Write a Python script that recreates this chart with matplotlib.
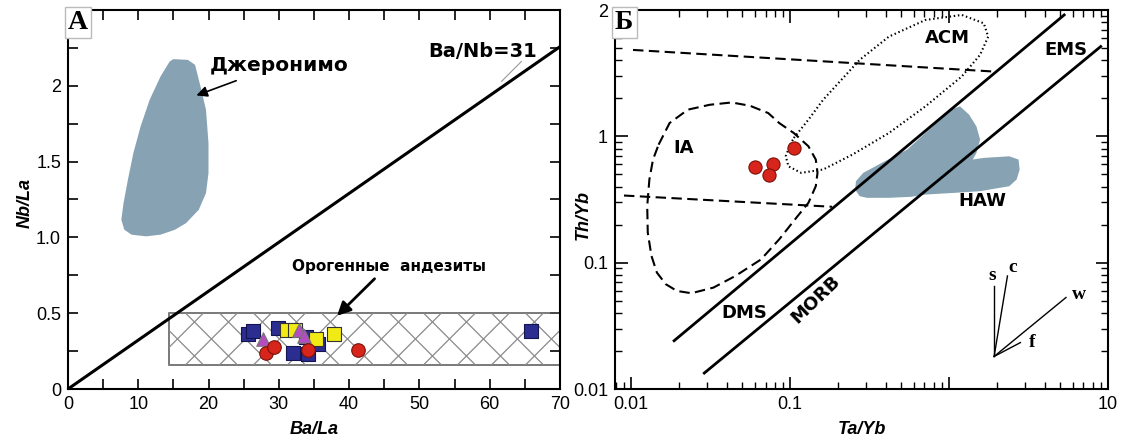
import numpy as np
import matplotlib
matplotlib.use("Agg")
import matplotlib.pyplot as plt
from matplotlib.patches import Polygon, Rectangle
from matplotlib.ticker import FixedLocator, FixedFormatter, NullFormatter, LogLocator

plt.rcParams['font.family'] = ['Liberation Sans', 'DejaVu Sans']

# ---------------- Panel A data ----------------
ba_nb_ratio = 31
ba_nb_x = [0, 70]

geronimo_x = [14.98, 17.05, 18.08, 18.85, 19.63, 19.99, 19.99, 19.63, 18.60, 16.79, 15.24, 13.17,
              11.11, 9.04, 8.01, 7.59, 7.90, 8.52, 9.30, 10.33, 11.62, 13.17, 14.46]
geronimo_y = [2.176, 2.171, 2.138, 1.996, 1.842, 1.622, 1.424, 1.292, 1.182, 1.094, 1.051, 1.018,
              1.007, 1.018, 1.051, 1.116, 1.226, 1.380, 1.556, 1.732, 1.908, 2.062, 2.160]

orogenic_box_x = [14.4, 70.0]
orogenic_box_y = [0.16, 0.50]

blue_x = [25.6, 26.3, 29.9, 32.0, 34.2, 35.6, 33.8, 65.9]
blue_y = [0.36, 0.38, 0.40, 0.24, 0.23, 0.30, 0.34, 0.385]
yellow_x = [31.1, 32.3, 35.3, 37.9]
yellow_y = [0.39, 0.39, 0.33, 0.365]
purple_x = [27.7, 32.8, 33.6]
purple_y = [0.33, 0.39, 0.35]
red_a_x = [28.2, 29.3, 34.1, 41.3]
red_a_y = [0.24, 0.275, 0.255, 0.255]

a_xticks = [0, 10, 20, 30, 40, 50, 60, 70]
a_xticklabels = ['0', '10', '20', '30', '40', '50', '60', '70']
a_yticks = [0, 0.5, 1.0, 1.5, 2.0]
a_yticklabels = ['0', '0.5', '1.0', '1.5', '2']

# ---------------- Panel B data ----------------
dms_x = [0.0186, 5.30]
dms_y = [0.0241, 9.14]
morb_x = [0.0288, 9.0]
morb_y = [0.01337, 5.14]
dash_upper_x = [0.01026, 1.89]
dash_upper_y = [4.83, 3.26]
dash_lower_x = [0.0090, 0.1836]
dash_lower_y = [0.340, 0.277]

ia_x = [0.01486, 0.01742, 0.02270, 0.03119, 0.04285, 0.05585, 0.07278, 0.08531, 0.1054, 0.1303,
        0.1449, 0.1486, 0.1449, 0.1303, 0.1112, 0.0853, 0.0655, 0.0452, 0.0329, 0.0239, 0.0194,
        0.0165, 0.0145, 0.0134, 0.0127, 0.0126, 0.0130, 0.0137]
ia_y = [0.859, 1.274, 1.626, 1.778, 1.854, 1.746, 1.528, 1.274, 1.062, 0.834,
        0.655, 0.514, 0.403, 0.298, 0.233, 0.153, 0.106, 0.0785, 0.0635, 0.0573, 0.0597,
        0.0675, 0.0834, 0.113, 0.173, 0.280, 0.455, 0.655]

acm_x = [0.1054, 0.1303, 0.1611, 0.2099, 0.2735, 0.4178, 0.7096, 1.202, 1.652, 1.762,
         1.567, 1.202, 0.7096, 0.4178, 0.2460, 0.1611, 0.1172, 0.0975, 0.0938, 0.1000]
acm_y = [0.971, 1.355, 1.945, 2.799, 4.027, 6.152, 8.337, 9.141, 7.852, 6.152,
         4.416, 2.979, 1.726, 1.062, 0.716, 0.546, 0.514, 0.579, 0.695, 0.859]

haw_x = [0.2594, 0.2884, 0.3758, 0.5445, 0.7096, 0.8770, 1.026, 1.172, 1.337, 1.486, 1.567,
         1.486, 1.409, 1.652, 2.393, 2.735, 2.780, 2.661, 2.393, 1.567, 1.081, 0.7096,
         0.5741, 0.4178, 0.3041, 0.2735, 0.2564]
haw_y = [0.4416, 0.514, 0.615, 0.785, 1.062, 1.355, 1.626, 1.726, 1.483, 1.199, 0.942,
         0.738, 0.655, 0.675, 0.695, 0.655, 0.546, 0.455, 0.403, 0.368, 0.357, 0.346,
         0.332, 0.326, 0.326, 0.336, 0.379]

red_b_x = [0.0598, 0.0780, 0.0733, 0.105]
red_b_y = [0.574, 0.600, 0.494, 0.803]

vec_origin = (1.92, 0.0181)
vec_names = ['s', 'c', 'w', 'f']
vec_end_x = [1.92, 2.33, 5.44, 2.81]
vec_end_y = [0.0655, 0.0785, 0.0530, 0.0233]
vec_label_x = [1.86, 2.50, 6.6, 3.35]
vec_label_y = [0.0790, 0.0920, 0.0560, 0.0235]

b_xticks = [0.01, 0.1, 1, 10]
b_xticklabels = ['0.01', '0.1', '', '10']
b_yticks = [0.01, 0.1, 1, 10]
b_yticklabels = ['0.01', '0.1', '1', '2']

# ---------------- Figure ----------------
W, H = 1131, 444
fig = plt.figure(figsize=(W / 100, H / 100), dpi=100)
axA = fig.add_axes([68 / W, (H - 389) / H, 492 / W, 379 / H])
axB = fig.add_axes([615 / W, (H - 389) / H, 493 / W, 379 / H])

fill_col = '#86a2b3'
tick_fs = 13

# ---- Panel A ----
axA.set_xlim(0, 70)
axA.set_ylim(0, 2.5)
axA.add_patch(Polygon(np.column_stack([geronimo_x, geronimo_y]), closed=True,
                      facecolor=fill_col, edgecolor='none', zorder=1))
bx = np.array(ba_nb_x, dtype=float)
axA.plot(bx, bx / ba_nb_ratio, color='black', lw=2.2, zorder=3, clip_on=False, solid_capstyle='butt')

# hatched box
rx0, rx1 = orogenic_box_x
ry0, ry1 = orogenic_box_y
rect = Rectangle((rx0, ry0), rx1 - rx0, ry1 - ry0, facecolor='none', edgecolor='#555555', lw=1.1, zorder=2)
axA.add_patch(rect)
p0 = axA.transData.transform((0, 0))
p1 = axA.transData.transform((1, 1))
pxx, pxy = p1[0] - p0[0], p1[1] - p0[1]
s_data = pxx / pxy  # dy/dx in data units for a 45-degree line in pixels
spacing = 34.0 / pxx
span = (ry1 - ry0) / s_data
offs = np.arange(rx0 - span - spacing, rx1 + span + spacing, spacing)
for c in offs:
    xs = np.array([c, c + span])
    for ys in (ry0 + s_data * (xs - c), ry1 - s_data * (xs - c)):
        ln, = axA.plot(xs, ys, color='#8a8a8a', lw=0.9, zorder=2)
        ln.set_clip_path(rect)

mk = dict(s=95, linewidths=0.8, zorder=5)
axA.scatter(blue_x, blue_y, marker='s', c='#2b2d91', edgecolors='#141450', **mk)
axA.scatter(yellow_x, yellow_y, marker='s', c='#f2ea14', edgecolors='#333333', **mk)
axA.scatter(purple_x, purple_y, marker='^', c='#b44dc0', edgecolors='#777777', **mk)
axA.scatter(red_a_x, red_a_y, marker='o', c='#d8251b', edgecolors='#7a1008', **mk)

axA.text(20.2, 2.135, 'Джеронимо', fontsize=14.5, fontweight='bold', family=['DejaVu Sans'],
         va='center', ha='left')
axA.annotate('', xy=(17.9, 1.93), xytext=(24.3, 2.04),
             arrowprops=dict(arrowstyle='-|>', color='black', lw=1.2, mutation_scale=16))
axA.text(59.0, 2.225, 'Ba/Nb=31', fontsize=14, fontweight='bold', family=['DejaVu Sans'],
         va='center', ha='center')
axA.plot([64.5, 61.7], [2.16, 2.03], color='#999999', lw=0.8)
axA.text(45.7, 0.805, 'Орогенные  андезиты', fontsize=11, fontweight='bold',
         family=['Liberation Sans Narrow', 'DejaVu Sans'], va='center', ha='center')
axA.annotate('', xy=(38.0, 0.47), xytext=(43.9, 0.74),
             arrowprops=dict(arrowstyle='-|>', color='black', lw=2.0, mutation_scale=20))

axA.xaxis.set_major_locator(FixedLocator(a_xticks))
axA.xaxis.set_major_formatter(FixedFormatter(a_xticklabels))
axA.xaxis.set_minor_locator(FixedLocator(np.arange(5, 70, 10)))
axA.yaxis.set_major_locator(FixedLocator(a_yticks))
axA.yaxis.set_major_formatter(FixedFormatter(a_yticklabels))
axA.yaxis.set_minor_locator(FixedLocator(np.arange(0.25, 2.5, 0.5)))
axA.tick_params(which='both', direction='in', top=True, right=True, length=7, width=1.2,
                labelsize=tick_fs, pad=5)
axA.set_xlabel('Ba/La', fontsize=13, fontweight='bold', style='italic')
axA.set_ylabel('Nb/La', fontsize=13, fontweight='bold', style='italic')
axA.xaxis.set_label_coords(0.5, -0.085)
axA.yaxis.set_label_coords(-0.07, 0.49)
for sp in axA.spines.values():
    sp.set_linewidth(1.5)
axA.text(0.0, 1.0, 'A', transform=axA.transAxes, fontsize=20, fontweight='bold',
         family=['Liberation Serif'], va='top', ha='left', zorder=10,
         bbox=dict(boxstyle='square,pad=0.12', facecolor='white', edgecolor='#bbbbbb', lw=1))

# ---- Panel B ----
axB.set_xscale('log')
axB.set_yscale('log')
axB.set_xlim(0.0079, 10)
axB.set_ylim(0.01, 10)
axB.add_patch(Polygon(np.column_stack([haw_x, haw_y]), closed=True,
                      facecolor=fill_col, edgecolor='none', zorder=1))
axB.plot(dms_x, dms_y, color='black', lw=2.0, zorder=3)
axB.plot(morb_x, morb_y, color='black', lw=2.0, zorder=3)
dash = (0, (5, 2.6))
axB.plot(dash_upper_x, dash_upper_y, color='black', lw=1.5, linestyle=dash, zorder=3)
axB.plot(dash_lower_x, dash_lower_y, color='black', lw=1.5, linestyle=dash, zorder=3)
axB.plot(ia_x + ia_x[:1], ia_y + ia_y[:1], color='black', lw=1.5, linestyle=dash, zorder=3)
axB.plot(acm_x + acm_x[:1], acm_y + acm_y[:1], color='black', lw=1.5,
         linestyle=(0, (0.7, 1.3)), zorder=3)
axB.scatter(red_b_x, red_b_y, marker='o', s=90, c='#d8251b', edgecolors='#7a1008',
            linewidths=0.8, zorder=5)

lab = dict(fontsize=13, fontweight='bold', family=['DejaVu Sans'], va='center', ha='center')
axB.text(0.975, 5.97, 'ACM', **lab)
axB.text(5.44, 4.83, 'EMS', **lab)
axB.text(0.0215, 0.81, 'IA', **lab)
axB.text(1.61, 0.307, 'HAW', **lab)
axB.text(0.0516, 0.0403, 'DMS', **lab)
axB.text(0.145, 0.0514, 'MORB', rotation=44, **lab)

for ex, ey in zip(vec_end_x, vec_end_y):
    axB.plot([vec_origin[0], ex], [vec_origin[1], ey], color='black', lw=1.0, zorder=3)
for name, lx, ly in zip(vec_names, vec_label_x, vec_label_y):
    axB.text(lx, ly, name, fontsize=14, fontweight='bold', family=['Liberation Serif'],
             va='center', ha='center')

axB.xaxis.set_major_locator(FixedLocator(b_xticks))
axB.xaxis.set_major_formatter(FixedFormatter(b_xticklabels))
axB.xaxis.set_minor_locator(LogLocator(base=10, subs=np.arange(2, 10)))
axB.xaxis.set_minor_formatter(NullFormatter())
axB.yaxis.set_major_locator(FixedLocator(b_yticks))
axB.yaxis.set_major_formatter(FixedFormatter(b_yticklabels))
axB.yaxis.set_minor_locator(LogLocator(base=10, subs=np.arange(2, 10)))
axB.yaxis.set_minor_formatter(NullFormatter())
axB.tick_params(which='major', direction='in', top=True, right=True, length=9, width=1.2,
                labelsize=tick_fs, pad=5)
axB.tick_params(which='minor', direction='in', top=True, right=True, length=5, width=1.0)
axB.set_xlabel('Ta/Yb', fontsize=13, fontweight='bold', style='italic')
axB.set_ylabel('Th/Yb', fontsize=13, fontweight='bold', style='italic')
axB.xaxis.set_label_coords(0.5, -0.085)
axB.yaxis.set_label_coords(-0.047, 0.46)
for sp in axB.spines.values():
    sp.set_linewidth(1.5)
axB.text(0.0, 1.0, 'Б', transform=axB.transAxes, fontsize=20, fontweight='bold',
         family=['Liberation Serif'], va='top', ha='left', zorder=10,
         bbox=dict(boxstyle='square,pad=0.12', facecolor='white', edgecolor='#bbbbbb', lw=1))

fig.savefig('out.png', dpi=100)
